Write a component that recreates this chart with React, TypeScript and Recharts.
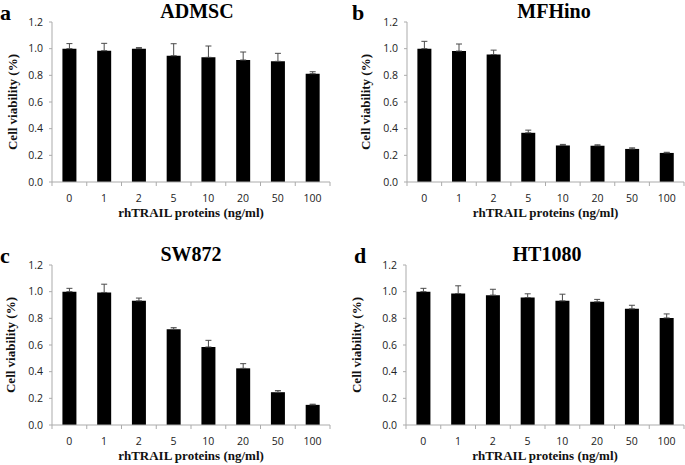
import { BarChart, Bar, XAxis, YAxis, ErrorBar } from 'recharts';

const doses = ['0', '1', '2', '5', '10', '20', '50', '100'];
const yTicks = [0, 0.2, 0.4, 0.6, 0.8, 1.0, 1.2];

const admscMean = [1.0, 0.985, 1.0, 0.947, 0.935, 0.915, 0.905, 0.812];
const admscErr = [0.038, 0.055, 0.008, 0.09, 0.085, 0.06, 0.06, 0.015];

const mfhinoMean = [1.0, 0.982, 0.956, 0.369, 0.274, 0.272, 0.248, 0.218];
const mfhinoErr = [0.055, 0.053, 0.033, 0.02, 0.008, 0.007, 0.008, 0.005];

const sw872Mean = [1.0, 0.994, 0.931, 0.718, 0.585, 0.425, 0.246, 0.151];
const sw872Err = [0.025, 0.062, 0.021, 0.012, 0.05, 0.035, 0.012, 0.005];

const ht1080Mean = [1.0, 0.986, 0.974, 0.956, 0.931, 0.924, 0.871, 0.803];
const ht1080Err = [0.025, 0.058, 0.044, 0.028, 0.05, 0.018, 0.027, 0.03];

const AXIS = '#ababab';
const SERIF = '"Liberation Serif", "Times New Roman", serif';
const SANS = '"Open Sans", "Liberation Sans", sans-serif';

const toRows = (mean: number[], err: number[]) =>
  doses.map((d, i) => ({ dose: d, value: mean[i], err: [0, err[i]] }));

// excel style: tick marks sit between the categories
function DoseTick(props: any) {
  const { x, y, payload, index, visibleTicksCount, width } = props;
  const half = payload.offset || width / visibleTicksCount / 2;
  const last = index === visibleTicksCount - 1;
  return (
    <g>
      <line x1={x - half} y1={y} x2={x - half} y2={y + 4} stroke={AXIS} />
      {last && <line x1={x + half} y1={y} x2={x + half} y2={y + 4} stroke={AXIS} />}
      <text x={x} y={y + 20} textAnchor="middle" fill="#222" fontSize={10.5} fontFamily={SANS}>
        {payload.value}
      </text>
    </g>
  );
}

interface PanelProps {
  mean: number[];
  err: number[];
  left: number;
  top: number;
  width: number;
  axisWidth: number;
  labelX: number;
}

function Panel({ mean, err, left, top, width, axisWidth, labelX }: PanelProps) {
  const rows = toRows(mean, err);
  return (
    <div style={{ position: 'absolute', left, top }}>
      <BarChart
        width={width}
        height={222}
        data={rows}
        margin={{ top: 22, right: width === 343 ? 13 : 1, bottom: 0, left: 0 }}
        barCategoryGap="30%"
      >
        <XAxis
          dataKey="dose"
          stroke={AXIS}
          tickLine={false}
          tickSize={0}
          tickMargin={0}
          height={40}
          interval={0}
          tick={<DoseTick />}
          label={{
            content: (p: any) => {
              const vb = p.viewBox;
              return (
                <text
                  x={vb.x + vb.width / 2}
                  y={vb.y + 35}
                  textAnchor="middle"
                  fontFamily={SERIF}
                  fontWeight="bold"
                  fontSize={13}
                  fill="#111"
                >
                  rhTRAIL proteins (ng/ml)
                </text>
              );
            },
          }}
        />
        <YAxis
          width={axisWidth}
          domain={[0, 1.2]}
          ticks={yTicks}
          interval={0}
          tickFormatter={(v: number) => v.toFixed(1)}
          stroke={AXIS}
          tickSize={3}
          tickMargin={6}
          tick={{ fill: '#222', fontSize: 10.5, fontFamily: SANS }}
          label={{
            content: (p: any) => {
              const vb = p.viewBox;
              const cy = vb.y + vb.height / 2;
              return (
                <text
                  x={labelX}
                  y={cy}
                  transform={`rotate(-90 ${labelX} ${cy})`}
                  textAnchor="middle"
                  dominantBaseline="central"
                  fontFamily={SERIF}
                  fontWeight="bold"
                  fontSize={13}
                  fill="#111"
                >
                  Cell viability (%)
                </text>
              );
            },
          }}
        />
        <Bar dataKey="value" fill="#000" isAnimationActive={false}>
          <ErrorBar dataKey="err" direction="y" width={3} stroke="#4a4a4a" strokeWidth={1} isAnimationActive={false} />
        </Bar>
      </BarChart>
    </div>
  );
}

const titles = [
  { letter: 'a', name: 'ADMSC', lx: 0, cx: 197, y: 18 },
  { letter: 'b', name: 'MFHino', lx: 352, cx: 554, y: 18 },
  { letter: 'c', name: 'SW872', lx: 0, cx: 191, y: 261 },
  { letter: 'd', name: 'HT1080', lx: 354, cx: 547, y: 261 },
];

export default function App() {
  return (
    <div style={{ position: 'absolute', left: 0, top: 0, width: 685, height: 465, background: '#fff', overflow: 'hidden' }}>
      <Panel mean={admscMean} err={admscErr} left={0} top={0} width={343} axisWidth={52} labelX={12} />
      <Panel mean={mfhinoMean} err={mfhinoErr} left={343} top={0} width={342} axisWidth={64} labelX={22} />
      <Panel mean={sw872Mean} err={sw872Err} left={0} top={243} width={343} axisWidth={52} labelX={10} />
      <Panel mean={ht1080Mean} err={ht1080Err} left={343} top={243} width={342} axisWidth={63} labelX={13} />
      <svg width={685} height={465} style={{ position: 'absolute', left: 0, top: 0, pointerEvents: 'none' }}>
        {titles.map((t) => (
          <g key={t.letter}>
            <text x={t.lx} y={t.y + 2} fontFamily={SERIF} fontWeight="bold" fontSize={22} fill="#000">
              {t.letter}
            </text>
            <text x={t.cx} y={t.y} textAnchor="middle" fontFamily={SERIF} fontWeight="bold" fontSize={20} fill="#000">
              {t.name}
            </text>
          </g>
        ))}
      </svg>
    </div>
  );
}
